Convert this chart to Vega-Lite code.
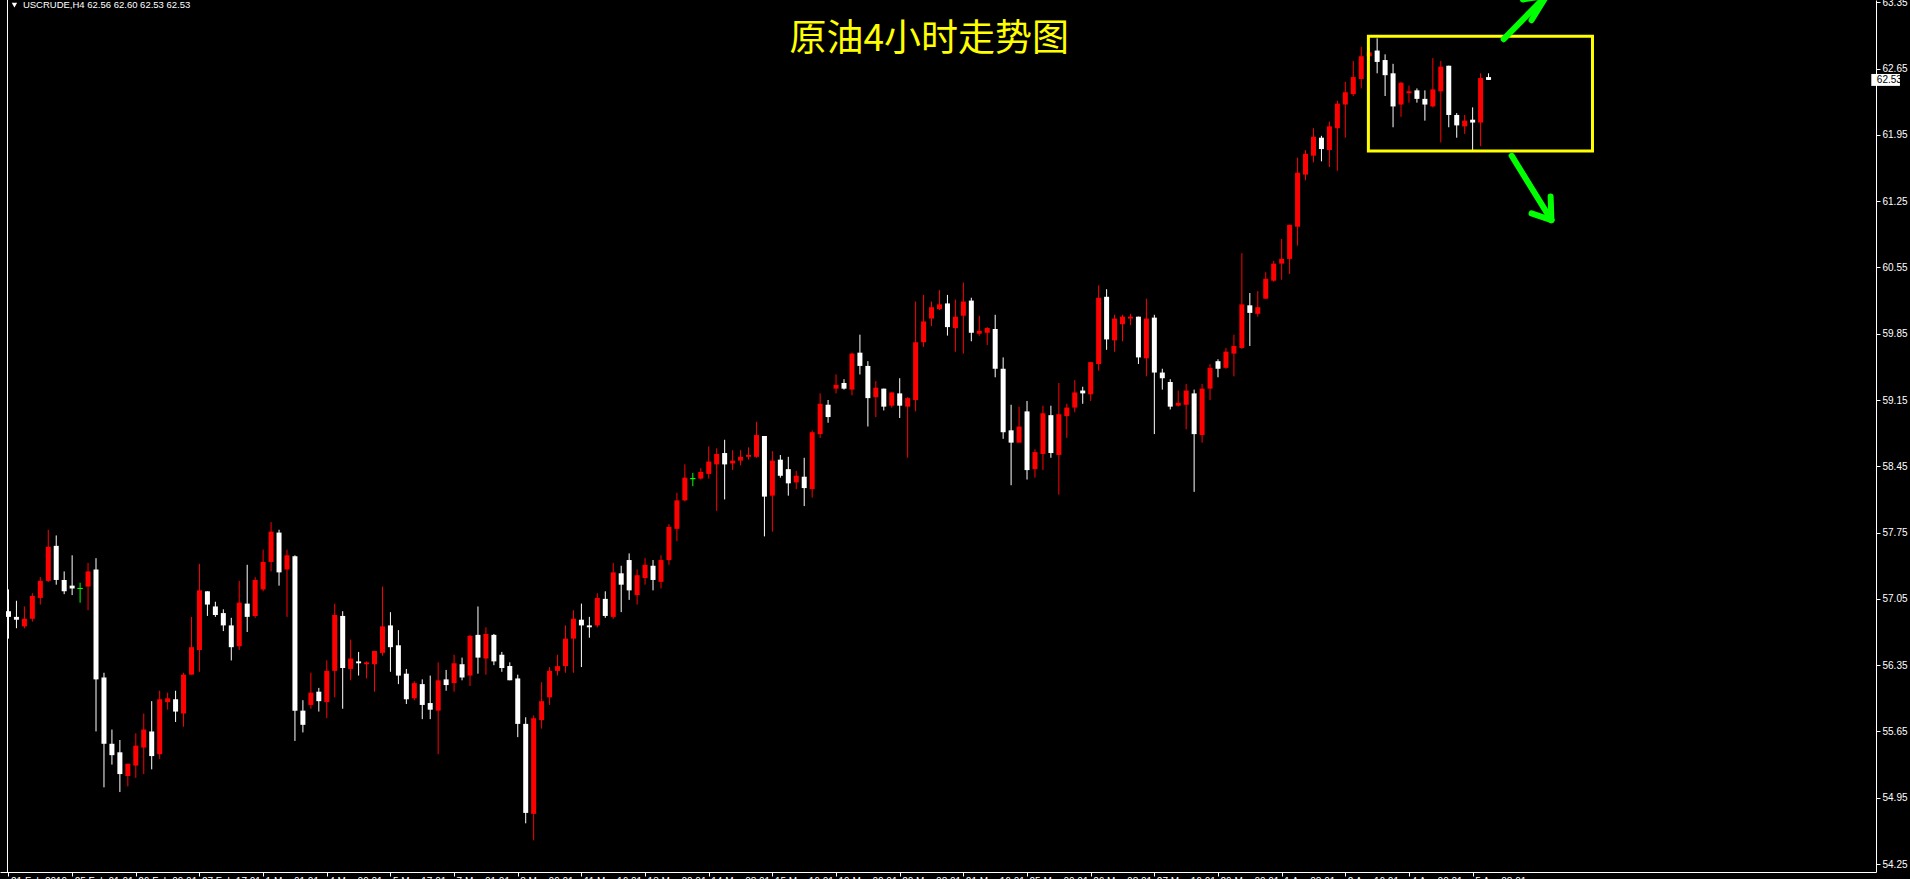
{
  "$schema": "https://vega.github.io/schema/vega-lite/v6.json",
  "width": 1876,
  "height": 872,
  "autosize": {"type": "none"},
  "padding": {"left": 0, "top": 0, "right": 34, "bottom": 7},
  "background": "#000000",
  "config": {"view": {"stroke": null}},
  "datasets": {
    "candles": [
      {"i":0,"o":56.92,"h":57.15,"l":56.63,"c":56.86},
      {"i":1,"o":56.86,"h":57.03,"l":56.74,"c":56.83},
      {"i":2,"o":56.76,"h":56.97,"l":56.74,"c":56.84},
      {"i":3,"o":56.84,"h":57.11,"l":56.81,"c":57.08},
      {"i":4,"o":57.06,"h":57.28,"l":56.99,"c":57.24},
      {"i":5,"o":57.24,"h":57.78,"l":57.23,"c":57.60},
      {"i":6,"o":57.61,"h":57.72,"l":57.20,"c":57.25},
      {"i":7,"o":57.25,"h":57.34,"l":57.10,"c":57.13},
      {"i":8,"o":57.19,"h":57.51,"l":57.09,"c":57.16},
      {"i":9,"o":57.16,"h":57.22,"l":57.01,"c":57.16},
      {"i":10,"o":57.18,"h":57.43,"l":56.93,"c":57.34},
      {"i":11,"o":57.36,"h":57.48,"l":55.65,"c":56.20},
      {"i":12,"o":56.22,"h":56.27,"l":55.06,"c":55.52},
      {"i":13,"o":55.52,"h":55.67,"l":55.30,"c":55.40},
      {"i":14,"o":55.43,"h":55.56,"l":55.01,"c":55.20},
      {"i":15,"o":55.18,"h":55.31,"l":55.07,"c":55.31},
      {"i":16,"o":55.29,"h":55.63,"l":55.16,"c":55.50},
      {"i":17,"o":55.48,"h":55.84,"l":55.20,"c":55.67},
      {"i":18,"o":55.65,"h":55.97,"l":55.25,"c":55.39},
      {"i":19,"o":55.41,"h":56.08,"l":55.36,"c":55.99},
      {"i":20,"o":55.96,"h":56.06,"l":55.88,"c":56.00},
      {"i":21,"o":55.99,"h":56.08,"l":55.75,"c":55.86},
      {"i":22,"o":55.84,"h":56.27,"l":55.70,"c":56.25},
      {"i":23,"o":56.25,"h":56.86,"l":56.25,"c":56.54},
      {"i":24,"o":56.51,"h":57.42,"l":56.28,"c":57.14},
      {"i":25,"o":57.13,"h":57.13,"l":56.87,"c":56.99},
      {"i":26,"o":56.97,"h":57.02,"l":56.86,"c":56.88},
      {"i":27,"o":56.90,"h":56.94,"l":56.71,"c":56.77},
      {"i":28,"o":56.77,"h":56.85,"l":56.40,"c":56.54},
      {"i":29,"o":56.55,"h":57.24,"l":56.51,"c":57.01},
      {"i":30,"o":57.00,"h":57.41,"l":56.70,"c":56.86},
      {"i":31,"o":56.87,"h":57.28,"l":56.85,"c":57.25},
      {"i":32,"o":57.15,"h":57.57,"l":57.13,"c":57.44},
      {"i":33,"o":57.44,"h":57.86,"l":57.34,"c":57.76},
      {"i":34,"o":57.75,"h":57.78,"l":57.19,"c":57.33},
      {"i":35,"o":57.36,"h":57.57,"l":56.86,"c":57.51},
      {"i":36,"o":57.50,"h":57.51,"l":55.55,"c":55.87},
      {"i":37,"o":55.87,"h":55.98,"l":55.64,"c":55.72},
      {"i":38,"o":55.93,"h":56.27,"l":55.89,"c":56.06},
      {"i":39,"o":56.07,"h":56.11,"l":55.86,"c":55.97},
      {"i":40,"o":55.96,"h":56.40,"l":55.79,"c":56.29},
      {"i":41,"o":56.29,"h":57.00,"l":56.01,"c":56.88},
      {"i":42,"o":56.87,"h":56.92,"l":55.89,"c":56.32},
      {"i":43,"o":56.31,"h":56.62,"l":56.19,"c":56.42},
      {"i":44,"o":56.39,"h":56.49,"l":56.24,"c":56.37},
      {"i":45,"o":56.36,"h":56.39,"l":56.21,"c":56.38},
      {"i":46,"o":56.36,"h":56.50,"l":56.07,"c":56.50},
      {"i":47,"o":56.48,"h":57.18,"l":56.45,"c":56.76},
      {"i":48,"o":56.77,"h":56.91,"l":56.28,"c":56.54},
      {"i":49,"o":56.56,"h":56.72,"l":56.15,"c":56.24},
      {"i":50,"o":56.26,"h":56.31,"l":55.94,"c":55.99},
      {"i":51,"o":56.00,"h":56.18,"l":55.98,"c":56.16},
      {"i":52,"o":56.15,"h":56.20,"l":55.78,"c":55.93},
      {"i":53,"o":55.95,"h":56.24,"l":55.78,"c":55.88},
      {"i":54,"o":55.87,"h":56.38,"l":55.41,"c":56.19},
      {"i":55,"o":56.20,"h":56.30,"l":56.08,"c":56.14},
      {"i":56,"o":56.16,"h":56.46,"l":56.07,"c":56.37},
      {"i":57,"o":56.36,"h":56.43,"l":56.19,"c":56.22},
      {"i":58,"o":56.24,"h":56.67,"l":56.13,"c":56.66},
      {"i":59,"o":56.67,"h":56.97,"l":56.26,"c":56.43},
      {"i":60,"o":56.42,"h":56.75,"l":56.25,"c":56.68},
      {"i":61,"o":56.67,"h":56.68,"l":56.35,"c":56.39},
      {"i":62,"o":56.46,"h":56.49,"l":56.28,"c":56.32},
      {"i":63,"o":56.34,"h":56.38,"l":56.19,"c":56.19},
      {"i":64,"o":56.21,"h":56.25,"l":55.59,"c":55.73},
      {"i":65,"o":55.73,"h":55.80,"l":54.68,"c":54.79},
      {"i":66,"o":54.78,"h":55.82,"l":54.50,"c":55.79},
      {"i":67,"o":55.77,"h":56.17,"l":55.68,"c":55.97},
      {"i":68,"o":56.01,"h":56.33,"l":55.93,"c":56.29},
      {"i":69,"o":56.29,"h":56.46,"l":56.24,"c":56.34},
      {"i":70,"o":56.34,"h":56.77,"l":56.27,"c":56.63},
      {"i":71,"o":56.63,"h":56.93,"l":56.27,"c":56.84},
      {"i":72,"o":56.83,"h":57.00,"l":56.33,"c":56.77},
      {"i":73,"o":56.77,"h":56.86,"l":56.64,"c":56.75},
      {"i":74,"o":56.77,"h":57.11,"l":56.75,"c":57.06},
      {"i":75,"o":57.05,"h":57.13,"l":56.85,"c":56.87},
      {"i":76,"o":56.86,"h":57.43,"l":56.84,"c":57.33},
      {"i":77,"o":57.32,"h":57.40,"l":56.91,"c":57.20},
      {"i":78,"o":57.46,"h":57.53,"l":57.04,"c":57.14},
      {"i":79,"o":57.09,"h":57.36,"l":56.99,"c":57.30},
      {"i":80,"o":57.27,"h":57.48,"l":57.20,"c":57.41},
      {"i":81,"o":57.40,"h":57.46,"l":57.14,"c":57.25},
      {"i":82,"o":57.23,"h":57.51,"l":57.16,"c":57.46},
      {"i":83,"o":57.46,"h":57.84,"l":57.41,"c":57.81},
      {"i":84,"o":57.79,"h":58.17,"l":57.66,"c":58.09},
      {"i":85,"o":58.09,"h":58.47,"l":58.08,"c":58.33},
      {"i":86,"o":58.32,"h":58.38,"l":58.24,"c":58.32},
      {"i":87,"o":58.32,"h":58.43,"l":58.31,"c":58.39},
      {"i":88,"o":58.37,"h":58.66,"l":58.32,"c":58.50},
      {"i":89,"o":58.47,"h":58.64,"l":57.98,"c":58.58},
      {"i":90,"o":58.59,"h":58.73,"l":58.10,"c":58.47},
      {"i":91,"o":58.48,"h":58.62,"l":58.41,"c":58.51},
      {"i":92,"o":58.51,"h":58.62,"l":58.46,"c":58.55},
      {"i":93,"o":58.55,"h":58.65,"l":58.52,"c":58.57},
      {"i":94,"o":58.55,"h":58.92,"l":58.54,"c":58.78},
      {"i":95,"o":58.77,"h":58.77,"l":57.71,"c":58.13},
      {"i":96,"o":58.14,"h":58.61,"l":57.76,"c":58.51},
      {"i":97,"o":58.52,"h":58.57,"l":58.33,"c":58.35},
      {"i":98,"o":58.42,"h":58.55,"l":58.14,"c":58.27},
      {"i":99,"o":58.28,"h":58.40,"l":58.21,"c":58.35},
      {"i":100,"o":58.34,"h":58.54,"l":58.03,"c":58.22},
      {"i":101,"o":58.21,"h":58.83,"l":58.12,"c":58.81},
      {"i":102,"o":58.79,"h":59.22,"l":58.75,"c":59.11},
      {"i":103,"o":59.10,"h":59.15,"l":58.91,"c":58.97},
      {"i":104,"o":59.27,"h":59.42,"l":59.22,"c":59.31},
      {"i":105,"o":59.33,"h":59.37,"l":59.26,"c":59.27},
      {"i":106,"o":59.26,"h":59.65,"l":59.20,"c":59.64},
      {"i":107,"o":59.65,"h":59.84,"l":59.42,"c":59.51},
      {"i":108,"o":59.51,"h":59.56,"l":58.87,"c":59.17},
      {"i":109,"o":59.18,"h":59.35,"l":58.97,"c":59.28},
      {"i":110,"o":59.27,"h":59.27,"l":59.04,"c":59.08},
      {"i":111,"o":59.09,"h":59.23,"l":59.07,"c":59.23},
      {"i":112,"o":59.22,"h":59.38,"l":58.96,"c":59.09},
      {"i":113,"o":59.08,"h":59.18,"l":58.54,"c":59.17},
      {"i":114,"o":59.15,"h":60.19,"l":59.03,"c":59.76},
      {"i":115,"o":59.76,"h":60.26,"l":59.71,"c":59.98},
      {"i":116,"o":60.01,"h":60.19,"l":59.93,"c":60.13},
      {"i":117,"o":60.11,"h":60.31,"l":60.10,"c":60.16},
      {"i":118,"o":60.17,"h":60.26,"l":59.83,"c":59.92},
      {"i":119,"o":59.91,"h":60.21,"l":59.66,"c":60.03},
      {"i":120,"o":60.04,"h":60.39,"l":59.64,"c":60.19},
      {"i":121,"o":60.20,"h":60.23,"l":59.77,"c":59.86},
      {"i":122,"o":59.85,"h":60.04,"l":59.83,"c":59.88},
      {"i":123,"o":59.86,"h":59.92,"l":59.73,"c":59.91},
      {"i":124,"o":59.90,"h":60.05,"l":59.39,"c":59.48},
      {"i":125,"o":59.48,"h":59.60,"l":58.74,"c":58.81},
      {"i":126,"o":58.83,"h":59.10,"l":58.25,"c":58.70},
      {"i":127,"o":58.70,"h":59.08,"l":58.70,"c":58.87},
      {"i":128,"o":59.03,"h":59.14,"l":58.31,"c":58.41},
      {"i":129,"o":58.42,"h":58.63,"l":58.33,"c":58.60},
      {"i":130,"o":58.58,"h":59.09,"l":58.41,"c":59.01},
      {"i":131,"o":58.99,"h":59.09,"l":58.54,"c":58.59},
      {"i":132,"o":58.57,"h":59.33,"l":58.15,"c":59.00},
      {"i":133,"o":58.98,"h":59.11,"l":58.75,"c":59.07},
      {"i":134,"o":59.07,"h":59.36,"l":59.02,"c":59.23},
      {"i":135,"o":59.25,"h":59.29,"l":59.11,"c":59.22},
      {"i":136,"o":59.21,"h":59.55,"l":59.14,"c":59.55},
      {"i":137,"o":59.53,"h":60.36,"l":59.46,"c":60.23},
      {"i":138,"o":60.24,"h":60.32,"l":59.68,"c":59.79},
      {"i":139,"o":59.78,"h":60.05,"l":59.66,"c":60.01},
      {"i":140,"o":59.95,"h":60.05,"l":59.77,"c":60.03},
      {"i":141,"o":60.01,"h":60.06,"l":59.94,"c":60.03},
      {"i":142,"o":60.03,"h":60.03,"l":59.53,"c":59.60},
      {"i":143,"o":59.59,"h":60.22,"l":59.40,"c":60.01},
      {"i":144,"o":60.02,"h":60.05,"l":58.79,"c":59.44},
      {"i":145,"o":59.44,"h":59.48,"l":59.26,"c":59.38},
      {"i":146,"o":59.34,"h":59.37,"l":59.05,"c":59.08},
      {"i":147,"o":59.09,"h":59.25,"l":59.08,"c":59.12},
      {"i":148,"o":59.10,"h":59.32,"l":58.84,"c":59.25},
      {"i":149,"o":59.22,"h":59.26,"l":58.18,"c":58.79},
      {"i":150,"o":58.78,"h":59.32,"l":58.70,"c":59.27},
      {"i":151,"o":59.27,"h":59.53,"l":59.15,"c":59.49},
      {"i":152,"o":59.56,"h":59.58,"l":59.39,"c":59.48},
      {"i":153,"o":59.49,"h":59.70,"l":59.48,"c":59.66},
      {"i":154,"o":59.64,"h":59.84,"l":59.40,"c":59.72},
      {"i":155,"o":59.70,"h":60.70,"l":59.69,"c":60.16},
      {"i":156,"o":60.15,"h":60.28,"l":59.72,"c":60.07},
      {"i":157,"o":60.06,"h":60.30,"l":60.03,"c":60.13},
      {"i":158,"o":60.22,"h":60.50,"l":60.22,"c":60.43},
      {"i":159,"o":60.41,"h":60.62,"l":60.40,"c":60.59},
      {"i":160,"o":60.59,"h":60.85,"l":60.42,"c":60.64},
      {"i":161,"o":60.64,"h":61.00,"l":60.48,"c":61.00},
      {"i":162,"o":60.98,"h":61.71,"l":60.78,"c":61.55},
      {"i":163,"o":61.53,"h":61.79,"l":61.47,"c":61.75},
      {"i":164,"o":61.73,"h":62.02,"l":61.66,"c":61.93},
      {"i":165,"o":61.92,"h":61.94,"l":61.67,"c":61.80},
      {"i":166,"o":61.79,"h":62.09,"l":61.61,"c":62.04},
      {"i":167,"o":62.02,"h":62.31,"l":61.57,"c":62.28},
      {"i":168,"o":62.27,"h":62.51,"l":61.92,"c":62.40},
      {"i":169,"o":62.38,"h":62.73,"l":62.36,"c":62.56},
      {"i":170,"o":62.54,"h":62.88,"l":62.44,"c":62.78},
      {"i":171,"o":62.78,"h":62.87,"l":62.73,"c":62.82},
      {"i":172,"o":62.84,"h":62.97,"l":62.60,"c":62.72},
      {"i":173,"o":62.74,"h":62.80,"l":62.36,"c":62.58},
      {"i":174,"o":62.60,"h":62.70,"l":62.03,"c":62.25},
      {"i":175,"o":62.27,"h":62.51,"l":62.14,"c":62.50},
      {"i":176,"o":62.39,"h":62.47,"l":62.29,"c":62.41},
      {"i":177,"o":62.42,"h":62.44,"l":62.29,"c":62.33},
      {"i":178,"o":62.33,"h":62.42,"l":62.10,"c":62.27},
      {"i":179,"o":62.25,"h":62.76,"l":62.24,"c":62.43},
      {"i":180,"o":62.41,"h":62.73,"l":61.87,"c":62.67},
      {"i":181,"o":62.68,"h":62.68,"l":62.03,"c":62.16},
      {"i":182,"o":62.16,"h":62.18,"l":61.92,"c":62.05},
      {"i":183,"o":62.04,"h":62.16,"l":61.96,"c":62.10},
      {"i":184,"o":62.11,"h":62.24,"l":61.79,"c":62.08},
      {"i":185,"o":62.08,"h":62.60,"l":61.83,"c":62.55},
      {"i":186,"o":62.56,"h":62.60,"l":62.53,"c":62.53}
    ],
    "arrows": [
      {"part":"up-shaft","x1":187.9,"y1":62.96,"x2":193.6,"y2":63.45},
      {"part":"up-head-a","x1":193.3,"y1":63.42,"x2":191.4,"y2":63.16},
      {"part":"up-head-b","x1":193.3,"y1":63.42,"x2":190.3,"y2":63.38},
      {"part":"down-shaft","x1":188.9,"y1":61.73,"x2":193.9,"y2":61.05},
      {"part":"down-head-a","x1":193.9,"y1":61.05,"x2":191.4,"y2":61.12},
      {"part":"down-head-b","x1":193.9,"y1":61.05,"x2":193.8,"y2":61.30}
    ]
  },
  "layer": [
    {
      "data": {"name": "candles"},
      "mark": {"type": "rule", "strokeWidth": 1},
      "encoding": {
        "x": {
          "field": "i", "type": "quantitative",
          "scale": {"domain": [-0.4375, 234.0625], "nice": false, "zero": false},
          "axis": {
            "orient": "bottom",
            "values": [0,8,16,24,32,40,48,56,64,72,80,88,96,104,112,120,128,136,144,152,160,168,176,184],
            "labelExpr": "['21 Feb 2019','25 Feb 01:01','26 Feb 09:01','27 Feb 17:01','1 Mar 01:01','4 Mar 09:01','5 Mar 17:01','7 Mar 01:01','8 Mar 09:01','11 Mar 16:01','13 Mar 00:01','14 Mar 08:01','15 Mar 16:01','19 Mar 00:01','20 Mar 08:01','21 Mar 16:01','25 Mar 00:01','26 Mar 08:01','27 Mar 16:01','29 Mar 00:01','1 Apr 08:01','2 Apr 16:01','4 Apr 00:01','5 Apr 08:01'][round(datum.value/8)]",
            "title": null,
            "grid": false,
            "domainColor": "#ffffff",
            "tickColor": "#ffffff",
            "tickSize": 4,
            "labelColor": "#ffffff",
            "labelFont": "Liberation Sans",
            "labelFontSize": 10,
            "labelAlign": "left",
            "labelBaseline": "top",
            "labelPadding": 0,
            "labelOffset": 2,
            "labelOverlap": false,
            "labelFlush": false,
            "labelBound": false
          }
        },
        "y": {
          "field": "l", "type": "quantitative",
          "scale": {"domain": [54.166, 63.374], "nice": false, "zero": false},
          "axis": {
            "orient": "right",
            "values": [54.25,54.6,54.95,55.3,55.65,56,56.35,56.7,57.05,57.4,57.75,58.1,58.45,58.8,59.15,59.5,59.85,60.2,60.55,60.9,61.25,61.6,61.95,62.3,62.65,63,63.35],
            "format": ".2f",
            "title": null,
            "grid": false,
            "domainColor": "#ffffff",
            "tickColor": "#ffffff",
            "tickSize": 4,
            "labelColor": "#ffffff",
            "labelFont": "Liberation Sans",
            "labelFontSize": 10,
            "labelPadding": 2,
            "labelOverlap": false,
            "labelFlush": false,
            "labelBound": false
          }
        },
        "y2": {"field": "h"},
        "color": {
          "condition": [
            {"test": "datum.c > datum.o", "value": "#ff0000"},
            {"test": "datum.c < datum.o", "value": "#ffffff"}
          ],
          "value": "#00ff00"
        }
      }
    },
    {
      "data": {"name": "candles"},
      "mark": {"type": "bar", "size": 5},
      "encoding": {
        "x": {"field": "i", "type": "quantitative"},
        "y": {"field": "o", "type": "quantitative"},
        "y2": {"field": "c"},
        "color": {
          "condition": [
            {"test": "datum.c > datum.o", "value": "#ff0000"},
            {"test": "datum.c < datum.o", "value": "#ffffff"}
          ],
          "value": "#00ff00"
        },
        "stroke": {
          "condition": [
            {"test": "datum.c > datum.o", "value": "#ff0000"},
            {"test": "datum.c < datum.o", "value": "#ffffff"}
          ],
          "value": "#00ff00"
        },
        "strokeWidth": {
          "condition": {"test": "datum.c == datum.o", "value": 1},
          "value": 0
        }
      }
    },
    {
      "data": {"values": [{}]},
      "mark": {"type": "rule", "color": "#ffffff", "strokeWidth": 1},
      "encoding": {"x": {"datum": -0.125}}
    },
    {
      "data": {"values": [{}]},
      "mark": {"type": "rect", "fill": null, "filled": false, "stroke": "#ffff00", "strokeWidth": 3},
      "encoding": {
        "x": {"datum": 170.9},
        "x2": {"datum": 199.06},
        "y": {"datum": 62.99},
        "y2": {"datum": 61.78}
      }
    },
    {
      "data": {"name": "arrows"},
      "mark": {"type": "rule", "color": "#00ff00", "strokeWidth": 6, "strokeCap": "round"},
      "encoding": {
        "x": {"field": "x1", "type": "quantitative"},
        "y": {"field": "y1", "type": "quantitative"},
        "x2": {"field": "x2"},
        "y2": {"field": "y2"}
      }
    },
    {
      "data": {"values": [{}]},
      "mark": {"type": "text", "text": "原油4小时走势图", "font": "Noto Sans CJK SC", "fontSize": 37, "color": "#ffff00", "align": "center", "baseline": "middle"},
      "encoding": {"x": {"datum": 115.7}, "y": {"datum": 62.95}}
    },
    {
      "data": {"values": [{}]},
      "mark": {"type": "text", "text": "USCRUDE,H4  62.56 62.60 62.53 62.53", "font": "Liberation Sans", "fontSize": 9.5, "color": "#ffffff", "align": "left", "baseline": "middle"},
      "encoding": {"x": {"datum": 1.81}, "y": {"datum": 63.32}}
    },
    {
      "data": {"values": [{}]},
      "mark": {"type": "point", "shape": "triangle-down", "filled": true, "color": "#ffffff", "size": 30, "opacity": 1},
      "encoding": {"x": {"datum": 0.75}, "y": {"datum": 63.32}}
    },
    {
      "data": {"values": [{}]},
      "mark": {"type": "rect", "fill": "#ffffff"},
      "encoding": {
        "x": {"datum": 234.1},
        "x2": {"datum": 237.7},
        "y": {"datum": 62.593},
        "y2": {"datum": 62.467}
      }
    },
    {
      "data": {"values": [{}]},
      "mark": {"type": "text", "text": "62.53", "font": "Liberation Sans", "fontSize": 10, "color": "#000000", "align": "left", "baseline": "middle"},
      "encoding": {"x": {"datum": 234.8}, "y": {"datum": 62.53}}
    }
  ]
}
